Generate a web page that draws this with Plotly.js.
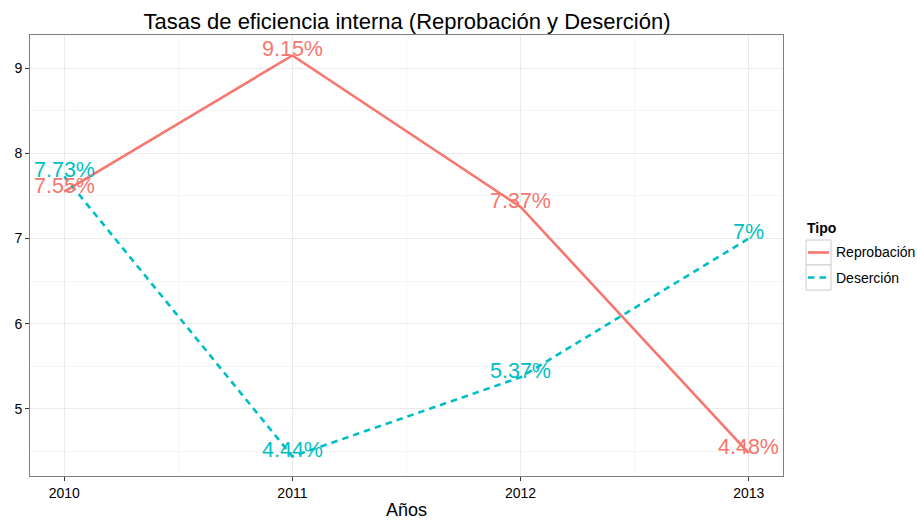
<!DOCTYPE html>
<html><head><meta charset="utf-8">
<script src="https://cdn.plot.ly/plotly-3.0.1.min.js"></script>
<style>body{margin:0;background:#fff}#chart{width:917px;height:520px}</style>
</head><body><div id="chart"></div>
<script>
var years = [2010, 2011, 2012, 2013];
var reprobacion = [7.55, 9.15, 7.37, 4.48];
var desercion = [7.73, 4.44, 5.37, 7.00];
var reprobacionLabels = ["7.55%", "9.15%", "7.37%", "4.48%"];
var desercionLabels = ["7.73%", "4.44%", "5.37%", "7%"];
var seriesNames = ["Reprobación", "Deserción"];
var legendTitle = "Tipo";

var red = "#F8766D", teal = "#00BFC4";
var FONT = "Liberation Sans, Arial, sans-serif";
var DASH = "6.5px,5px";
var M = {l: 30, r: 134, t: 35, b: 44};
var W = 917, H = 520;
var PW = W - M.l - M.r, PH = H - M.t - M.b;
function px(x) { return (x - M.l) / PW; }
function py(y) { return (H - M.b - y) / PH; }

var traces = [
  {x: years, y: reprobacion, mode: "lines", name: seriesNames[0], line: {color: red, width: 2.6}, showlegend: false},
  {x: years, y: desercion, mode: "lines", name: seriesNames[1], line: {color: teal, width: 2.6, dash: DASH}, showlegend: false}
];

var annotations = [];
function addLabels(vals, labels, color) {
  for (var i = 0; i < years.length; i++) {
    annotations.push({x: years[i], y: vals[i], xref: "x", yref: "y", text: labels[i], showarrow: false,
      xanchor: "center", yanchor: "middle", yshift: 6, font: {family: FONT, size: 21.5, color: color}});
  }
}
addLabels(reprobacion, reprobacionLabels, red);
addLabels(desercion, desercionLabels, teal);

// legend (drawn manually to match ggplot keys)
annotations.push({xref: "paper", yref: "paper", x: px(805), y: py(228), xanchor: "left", yanchor: "middle", showarrow: false,
  text: "<b>" + legendTitle + "</b>", font: {family: FONT, size: 14, color: "#000"}});
annotations.push({xref: "paper", yref: "paper", x: px(834), y: py(252), xanchor: "left", yanchor: "middle", showarrow: false,
  text: seriesNames[0], font: {family: FONT, size: 14, color: "#000"}});
annotations.push({xref: "paper", yref: "paper", x: px(834), y: py(278), xanchor: "left", yanchor: "middle", showarrow: false,
  text: seriesNames[1], font: {family: FONT, size: 14, color: "#000"}});

var shapes = [
  {type: "rect", xref: "paper", yref: "paper", x0: px(806), x1: px(831), y0: py(240), y1: py(265), line: {color: "#cccccc", width: 1}, fillcolor: "#ffffff"},
  {type: "rect", xref: "paper", yref: "paper", x0: px(806), x1: px(831), y0: py(265), y1: py(290), line: {color: "#cccccc", width: 1}, fillcolor: "#ffffff"},
  {type: "line", xref: "paper", yref: "paper", x0: px(808), x1: px(829), y0: py(252.5), y1: py(252.5), line: {color: red, width: 2.6}},
  {type: "line", xref: "paper", yref: "paper", x0: px(808), x1: px(829), y0: py(277.5), y1: py(277.5), line: {color: teal, width: 2.6, dash: DASH}}
];

var layout = {
  width: W, height: H,
  margin: M,
  paper_bgcolor: "#fff", plot_bgcolor: "#fff",
  font: {family: FONT, color: "#000"},
  showlegend: false,
  title: {text: "Tasas de eficiencia interna (Reprobación y Deserción)", x: 407 / W, xanchor: "center", y: 1 - 21 / H, yanchor: "middle", font: {size: 22, color: "#000"}},
  xaxis: {range: [2009.85, 2013.15], tickvals: years, ticktext: years.map(String), ticks: "outside", ticklen: 4, tickcolor: "#333", tickwidth: 1,
    showline: true, mirror: true, linecolor: "#7f7f7f", linewidth: 1, zeroline: false,
    showgrid: true, gridcolor: "#ebebeb", gridwidth: 1,
    minor: {dtick: 0.5, tick0: 2009.5, showgrid: true, gridcolor: "#f6f6f6", gridwidth: 1},
    tickfont: {size: 14, color: "#000"},
    title: {text: "Años", font: {size: 18, color: "#000"}, standoff: 6}},
  yaxis: {range: [4.21, 9.39], tickvals: [5, 6, 7, 8, 9], ticks: "outside", ticklen: 4, tickcolor: "#333", tickwidth: 1,
    showline: true, mirror: true, linecolor: "#7f7f7f", linewidth: 1, zeroline: false,
    showgrid: true, gridcolor: "#ebebeb", gridwidth: 1,
    minor: {dtick: 0.5, tick0: 4.5, showgrid: true, gridcolor: "#f6f6f6", gridwidth: 1},
    tickfont: {size: 14, color: "#000"}},
  annotations: annotations,
  shapes: shapes
};
Plotly.newPlot("chart", traces, layout, {displayModeBar: false});
</script></body></html>
